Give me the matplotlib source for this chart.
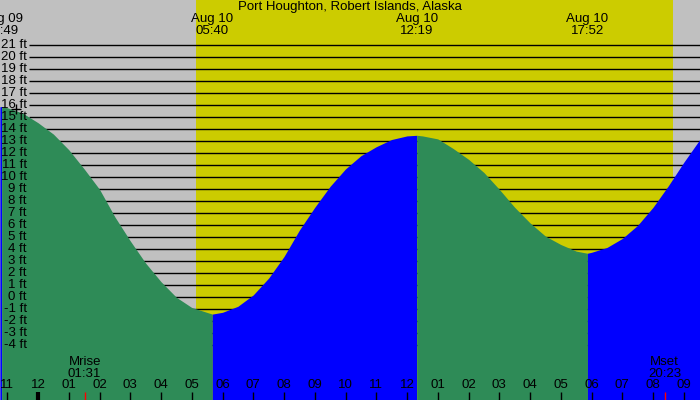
import matplotlib
matplotlib.use("Agg")
import matplotlib.pyplot as plt
import matplotlib.transforms as mtransforms
import numpy as np

plt.rcParams['font.family'] = ['Liberation Sans', 'DejaVu Sans']

title = "Port Houghton, Robert Islands, Alaska"

# hours counted from midnight Aug 10 (negative = evening of Aug 09)
extreme_hours = [-1.1833, 5.6667, 12.3167, 17.8667]
extreme_dates = ["Aug 09", "Aug 10", "Aug 10", "Aug 10"]
extreme_times = ["22:49", "05:40", "12:19", "17:52"]

# tide level
tide_hours = [-1.24, -1.1833, -1.0, -0.5, 0.0, 0.5, 1.0, 1.5, 2.0, 2.5, 3.0, 3.5, 4.0, 4.5, 5.0,
              5.6667, 6.0, 6.5, 7.0, 7.5, 8.0, 8.5, 9.0, 9.5, 10.0, 10.5, 11.0, 11.5, 12.0,
              12.3167, 12.5, 13.0, 13.5, 14.0, 14.5, 15.0, 15.5, 16.0, 16.5, 17.0, 17.5,
              17.8667, 18.0, 18.5, 19.0, 19.5, 20.0, 20.5, 21.0, 21.55]
tide_ft = [15.88, 15.9, 15.8, 15.35, 14.55, 13.6, 12.3, 10.7, 9.0, 6.7, 4.7, 2.85, 1.3, 0.0, -0.85,
           -1.4, -1.25, -0.75, 0.2, 1.6, 3.4, 5.6, 7.5, 9.25, 10.7, 11.8, 12.55, 13.15, 13.45,
           13.5, 13.45, 13.2, 12.4, 11.5, 10.4, 9.0, 7.5, 6.2, 5.1, 4.4, 3.85,
           3.67, 3.75, 4.15, 4.9, 6.0, 7.5, 9.3, 11.25, 13.25]

sunrise = 5 + 8 / 60
sunset = 20 + 39 / 60
moonrise = 1 + 31 / 60
moonset = 20 + 23 / 60

hour_ticks = list(range(-1, 22))
hour_labels = ["11", "12", "01", "02", "03", "04", "05", "06", "07", "08", "09", "10", "11",
               "12", "01", "02", "03", "04", "05", "06", "07", "08", "09"]
ft_levels = list(range(-4, 22))

GREY = "#c0c0c0"
YELLOW = "#cccc00"
GREEN = "#2e8b57"
BLUE = "#0000ff"
FS = 9.5

fig = plt.figure(figsize=(7, 4), dpi=100)
ax = fig.add_axes([0, 0, 1, 1])
ax.set_xlim(-1.2358, 21.528)
ax.set_ylim(-8.558, 24.775)
ax.axis("off")
fig.patch.set_facecolor(GREY)

ax.axvspan(sunrise, sunset, color=YELLOW, lw=0, zorder=1)
ax.hlines(ft_levels, -0.293, 21.6, color="black", lw=1.0, zorder=2)

t = np.array(tide_hours)
z = np.array(tide_ft)
bounds = [t[0]] + extreme_hours + [t[-1]]
for a, b in zip(bounds[:-1], bounds[1:]):
    m = (t >= a - 1e-6) & (t <= b + 1e-6)
    col = GREEN if z[m][-1] < z[m][0] else BLUE
    ax.fill_between(t[m], z[m], -9, color=col, lw=0, zorder=3)

ax.plot([-0.72], [15.7], marker="+", color="black", ms=7, mew=1, zorder=5)

for v in ft_levels:
    ax.text(-0.358, v, f"{v} ft", ha="right", va="center", fontsize=FS, zorder=6)

tr = mtransforms.blended_transform_factory(ax.transData, ax.transAxes)
ax.text(0.5, 1 - 7 / 400, title, transform=ax.transAxes, ha="center", va="center", fontsize=FS, zorder=6)
for h, d, s in zip(extreme_hours, extreme_dates, extreme_times):
    ax.text(h, 1 - 19 / 400, d, transform=tr, ha="center", va="center", fontsize=FS, zorder=6)
    ax.text(h, 1 - 31 / 400, s, transform=tr, ha="center", va="center", fontsize=FS, zorder=6)

for h, lab in zip(hour_ticks, hour_labels):
    ax.text(h, 15 / 400, lab, transform=tr, ha="center", va="center", fontsize=FS, zorder=6)
    ax.plot([h, h], [0, 8 / 400], transform=tr, color="black",
            lw=3 if h == 0 else 1, solid_capstyle="butt", zorder=6)

for h, name, s in [(moonrise, "Mrise", "01:31"), (moonset, "Mset", "20:23")]:
    ax.text(h, 1 - 362 / 400, name, transform=tr, ha="center", va="center", fontsize=FS, zorder=6)
    ax.text(h, 1 - 374 / 400, s, transform=tr, ha="center", va="center", fontsize=FS, zorder=6)
    ax.plot([h, h], [0, 8 / 400], transform=tr, color="red", lw=1, solid_capstyle="butt", zorder=6)

fig.savefig("out.png", dpi=100, facecolor=GREY)
